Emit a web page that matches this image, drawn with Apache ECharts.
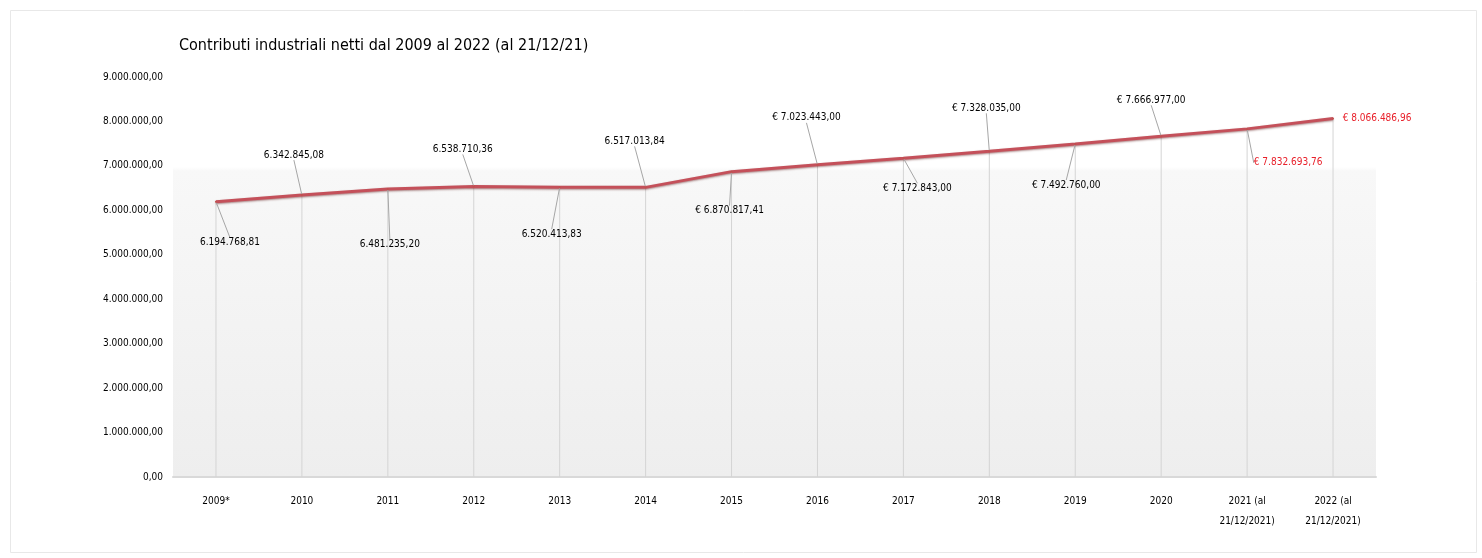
<!DOCTYPE html>
<html>
<head>
<meta charset="utf-8">
<script src="https://cdn.jsdelivr.net/npm/echarts@6/dist/echarts.min.js"></script>
<style>
html,body{margin:0;padding:0;background:#fff;}
#chart{width:1482px;height:558px;}
</style>
</head>
<body>
<div id="chart"></div>
<script>
const titleText = 'Contributi industriali netti dal 2009 al 2022 (al 21/12/21)';
const categories = ['2009*','2010','2011','2012','2013','2014','2015','2016','2017','2018','2019','2020','2021 (al\n21/12/2021)','2022 (al\n21/12/2021)'];
const values = [6194768.81,6342845.08,6481235.20,6538710.36,6520413.83,6517013.84,6870817.41,7023443.00,7172843.00,7328035.00,7492760.00,7666977.00,7832693.76,8066486.96];
const euroPrefix = [false,false,false,false,false,false,true,true,true,true,true,true,true,true];
const highlighted = [false,false,false,false,false,false,false,false,false,false,false,false,true,true];
const yTicks = [0,1000000,2000000,3000000,4000000,5000000,6000000,7000000,8000000,9000000];

// label placement (offset of label centre from its point, in px)
const labelOffsets = [[14,41],[-8,-40],[2,55],[-11,-37],[-8,47],[-11,-46],[-2,39],[-11,-47],[14,30],[-3,-43],[-9,41],[-10,-36],[41,34],[44,0]];
const showLeader = [true,true,true,true,true,true,true,true,true,true,true,true,true,false];

function fmtIt(v){
  const neg = v < 0;
  v = Math.abs(v);
  const fixed = v.toFixed(2);
  let [intPart, dec] = fixed.split('.');
  intPart = intPart.replace(/\B(?=(\d{3})+(?!\d))/g, '.');
  return (neg ? '-' : '') + intPart + ',' + dec;
}

const FONT = '"DejaVu Sans Condensed","Liberation Sans Narrow","Liberation Sans",sans-serif';

const chart = echarts.init(document.getElementById('chart'));
chart.setOption({
  animation: false,
  backgroundColor: '#fff',
  title: {
    text: titleText,
    left: 174, top: 33,
    textStyle: {fontFamily: FONT, fontSize: 16, fontWeight: 'normal', color: '#000'}
  },
  graphic: [{
    type: 'rect', left: 8, top: 8, z: -10,
    shape: {width: 1466, height: 542},
    style: {fill: 'none', stroke: '#e8e8e8', lineWidth: 1}
  }],
  grid: {
    left: 173, right: 106, top: 77, bottom: 81,
    show: true, borderWidth: 0,
    backgroundColor: {
      type: 'linear', x: 0, y: 0, x2: 0, y2: 1,
      colorStops: [
        {offset: 0, color: '#ffffff'},
        {offset: 0.225, color: '#ffffff'},
        {offset: 0.235, color: '#f8f8f8'},
        {offset: 1, color: '#eeeeee'}
      ]
    }
  },
  xAxis: {
    type: 'category',
    data: categories,
    boundaryGap: true,
    axisLine: {show: true, lineStyle: {color: '#d9d9d9', width: 2}},
    axisTick: {show: false},
    axisLabel: {fontFamily: FONT, fontSize: 10, color: '#000', margin: 14, lineHeight: 20, interval: 0}
  },
  yAxis: {
    type: 'value',
    min: yTicks[0], max: yTicks[yTicks.length - 1], interval: yTicks[1] - yTicks[0],
    axisLine: {show: false},
    axisTick: {show: false},
    splitLine: {show: false},
    axisLabel: {fontFamily: FONT, fontSize: 10, color: '#000', margin: 10, formatter: v => fmtIt(v)}
  },
  series: [
    {
      type: 'bar',
      data: values,
      barWidth: 1,
      itemStyle: {color: '#d4d4d4'},
      silent: true,
      z: 1
    },
    {
      type: 'line',
      data: values.map((v, i) => ({
        value: v,
        label: highlighted[i] ? {color: '#e8202a'} : undefined,
        labelLine: {show: showLeader[i]}
      })),
      symbol: 'circle',
      symbolSize: 2,
      showSymbol: true,
      itemStyle: {color: '#c0504d'},
      lineStyle: {color: '#c4505a', width: 3, shadowColor: 'rgba(80,0,0,0.45)', shadowBlur: 2, shadowOffsetY: 1},
      z: 5,
      label: {
        show: true,
        position: 'inside',
        fontFamily: FONT,
        fontSize: 10,
        color: '#000',
        formatter: p => (euroPrefix[p.dataIndex] ? '€ ' : '') + fmtIt(p.value)
      },
      labelLine: {show: true, lineStyle: {color: '#a6a6a6', width: 1}},
      labelLayout: p => ({dx: labelOffsets[p.dataIndex][0], dy: labelOffsets[p.dataIndex][1]})
    }
  ]
});
</script>
</body>
</html>
